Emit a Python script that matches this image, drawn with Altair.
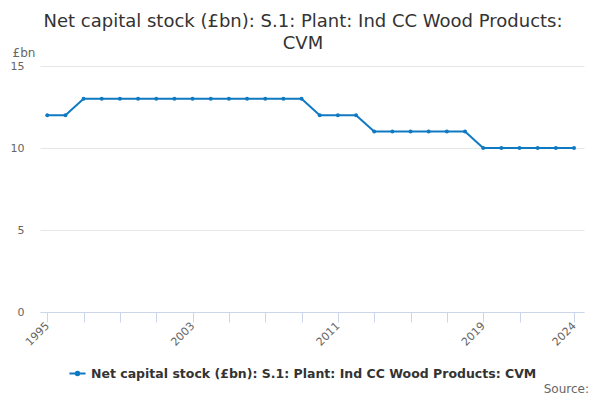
import altair as alt
import pandas as pd

years = list(range(1995, 2025))
values = [12, 12, 13, 13, 13, 13, 13, 13, 13, 13, 13, 13, 13, 13, 13,
          12, 12, 12, 11, 11, 11, 11, 11, 11, 10, 10, 10, 10, 10, 10]
series_name = "Net capital stock (£bn): S.1: Plant: Ind CC Wood Products: CVM"
tick_years = [1995, 1997, 1999, 2001, 2003, 2005, 2007, 2009, 2011, 2013,
              2015, 2017, 2019, 2021, 2024]
label_years = [1995, 2003, 2011, 2019, 2024]

df = pd.DataFrame({"year": years, "value": values, "series": series_name})

FONT = "DejaVu Sans"
BLUE = "#0f7ac2"

base = alt.Chart(df)

line = base.mark_line(color=BLUE, strokeWidth=2, point=alt.OverlayMarkDef(color=BLUE, size=16, filled=True)).encode(
    x=alt.X("year:Q",
            scale=alt.Scale(domain=[1994.6, 2024.55], nice=False, zero=False),
            axis=alt.Axis(values=tick_years,
                          labelExpr="indexof([1995,2003,2011,2019,2024], datum.value) >= 0 ? datum.value : ''",
                          format="d", labelAngle=-45, labelAlign="right", labelBaseline="middle",
                          labelColor="#666666", labelFontSize=11, labelFont=FONT,
                          labelPadding=2, labelOverlap=False,
                          domainColor="#ccd6eb", tickColor="#ccd6eb", tickSize=10,
                          grid=False, title=None)),
    y=alt.Y("value:Q",
            scale=alt.Scale(domain=[0, 15], nice=False),
            axis=alt.Axis(values=[0, 5, 10, 15], domain=False, ticks=False,
                          gridColor="#e6e6e6", labelColor="#666666", labelFontSize=11,
                          labelFont=FONT, labelPadding=16,
                          title="£bn", titleAngle=0, titleAlign="left", titleBaseline="middle",
                          titleX=-28, titleY=-14, titleFont=FONT, titleFontSize=12,
                          titleFontWeight="normal", titleColor="#666666")),
    color=alt.Color("series:N",
                    scale=alt.Scale(range=[BLUE]),
                    legend=alt.Legend(title=None, orient="none", legendX=28, legendY=298,
                                      direction="horizontal",
                                      symbolType="M -1 0 L 1 0 M 0.22 0 A 0.22 0.22 0 1 1 -0.22 0 A 0.22 0.22 0 1 1 0.22 0 Z",
                                      symbolSize=260, symbolStrokeWidth=2,
                                      symbolFillColor=BLUE, symbolStrokeColor=BLUE,
                                      labelFont=FONT, labelFontSize=12.5, labelFontWeight="bold",
                                      labelColor="#333333", labelLimit=600)),
)

source = alt.Chart(pd.DataFrame({"t": ["Source:"]})).mark_text(
    align="right", baseline="middle", font=FONT, fontSize=12, color="#666666"
).encode(x=alt.value(549), y=alt.value(323), text="t:N")

chart = alt.layer(line, source).properties(
    width=544, height=246,
    autosize=alt.AutoSizeParams(type="none"),
    padding={"left": 32, "top": 58, "right": 8, "bottom": 86},
    title=alt.TitleParams(
        text=["Net capital stock (£bn): S.1: Plant: Ind CC Wood Products:", "CVM"],
        font=FONT, fontSize=18, fontWeight="normal", color="#333333",
        anchor="middle", frame="group", dx=-9, offset=-7, lineHeight=22,
    ),
).configure_view(stroke=None)

chart.save("out.html", embed_options={"renderer": "svg", "actions": False})
